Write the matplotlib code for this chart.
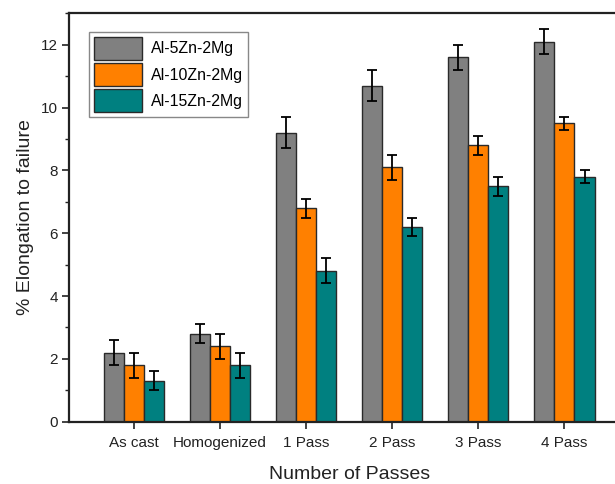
import matplotlib
matplotlib.use("Agg")
import matplotlib.pyplot as plt
import numpy as np
from matplotlib.ticker import MultipleLocator

plt.rcParams['font.family'] = ['Liberation Sans', 'DejaVu Sans']

categories = ["As cast", "Homogenized", "1 Pass", "2 Pass", "3 Pass", "4 Pass"]
series_names = ["Al-5Zn-2Mg", "Al-10Zn-2Mg", "Al-15Zn-2Mg"]
al5_vals = [2.2, 2.8, 9.2, 10.7, 11.6, 12.1]
al5_err = [0.4, 0.3, 0.5, 0.5, 0.4, 0.4]
al10_vals = [1.8, 2.4, 6.8, 8.1, 8.8, 9.5]
al10_err = [0.4, 0.4, 0.3, 0.4, 0.3, 0.2]
al15_vals = [1.3, 1.8, 4.8, 6.2, 7.5, 7.8]
al15_err = [0.3, 0.4, 0.4, 0.3, 0.3, 0.2]
colors = ["#808080", "#FF8000", "#008080"]

fig = plt.figure(figsize=(6.15, 4.84), dpi=100)
ax = fig.add_axes([0.1127, 0.1287, 0.9101, 0.8438])

x = np.arange(1, len(categories) + 1)
w = 0.233
vals = [al5_vals, al10_vals, al15_vals]
errs = [al5_err, al10_err, al15_err]
for i, (v, e, c, n) in enumerate(zip(vals, errs, colors, series_names)):
    ax.bar(x + (i - 1) * w, v, width=w, color=c, edgecolor="#2a2a2a", linewidth=1.0,
           label=n, zorder=2)
    ax.errorbar(x + (i - 1) * w, v, yerr=e, fmt="none", ecolor="black",
                elinewidth=1.3, capsize=3.6, capthick=1.3, zorder=3)

ax.set_xlim(0.25, 6.75)
ax.set_ylim(0, 13)
ax.set_xticks(x)
ax.set_xticklabels(categories)
ax.yaxis.set_major_locator(MultipleLocator(2))
ax.yaxis.set_minor_locator(MultipleLocator(1))
ax.tick_params(axis="y", which="major", direction="out", length=5, width=1.2, labelsize=11, colors="#222222", pad=3)
ax.tick_params(axis="y", which="minor", direction="out", length=3, width=1.0, colors="#222222")
ax.tick_params(axis="x", which="major", direction="out", length=5, width=1.2, labelsize=11, colors="#222222", pad=5)
for s in ax.spines.values():
    s.set_linewidth(1.6)
    s.set_color("#222222")

ax.set_xlabel("Number of Passes", fontsize=14, color="#222222", labelpad=12)
ax.set_ylabel("% Elongation to failure", fontsize=14, color="#222222", labelpad=5)

leg = ax.legend(loc="upper left", bbox_to_anchor=(0.0357, 0.954), fontsize=11.4,
                handlelength=3.0, handleheight=1.86, labelspacing=0.2,
                handletextpad=0.6, borderpad=0.3, borderaxespad=0.0,
                fancybox=False, edgecolor="#888888", framealpha=1)
leg.get_frame().set_linewidth(1.0)
for p in leg.get_patches():
    p.set_linewidth(1.0)

fig.savefig("out.png", dpi=100)
